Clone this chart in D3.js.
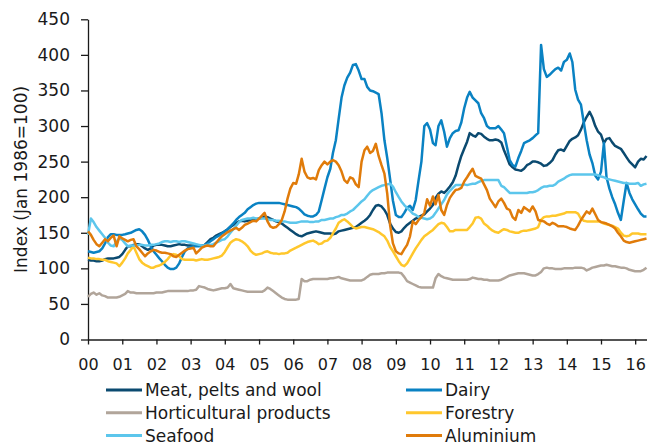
<!DOCTYPE html>
<html>
<head>
<meta charset="utf-8">
<script src="https://cdn.jsdelivr.net/npm/d3@7"></script>
<style>
  body { margin: 0; background: #fff; }
  svg text { font-family: "DejaVu Sans", Verdana, sans-serif; fill: #1a1a1a; }
</style>
</head>
<body>
<svg id="chart" width="649" height="443"></svg>
<script>
// monthly index values, Jan 2000 .. May 2016 (Jan 1986 = 100)
var start = new Date(2000, 0, 1);

var meat = [
  112,111,111,110,110,111,113,114,114,114,115,116,
  120,126,131,131,133,134,134,131,128,126,128,132,
  133,133,133,132,131,131,132,133,134,133,133,132,
  132,132,133,132,131,133,137,141,143,146,148,150,
  152,155,158,161,164,166,167,166,167,168,168,169,
  170,171,173,172,170,168,166,165,163,160,157,154,
  151,148,146,145,147,149,150,151,152,151,150,149,
  149,149,148,149,152,153,154,155,156,157,158,161,
  164,167,170,175,182,188,189,187,182,175,163,156,
  151,150,152,157,161,164,167,170,172,174,176,180,
  184,189,199,205,208,206,210,215,221,230,245,258,
  268,278,290,287,285,290,289,285,282,280,280,281,
  280,277,266,256,246,242,239,238,237,240,245,247,
  250,250,249,247,244,245,248,252,260,266,267,265,
  272,279,282,284,287,295,305,313,320,312,300,292,
  288,276,282,283,277,272,270,268,262,256,250,246,
  242,250,254,253,258
];

var dairy = [
  124,123,122,123,124,128,135,144,148,148,147,147,
  147,148,149,150,152,154,155,152,147,140,131,124,
  119,114,110,105,101,99,99,101,107,116,124,128,
  130,131,131,131,132,133,135,138,141,144,146,149,
  152,155,159,163,168,172,175,178,183,186,189,191,
  192,192,192,192,192,192,192,192,191,190,189,188,
  187,186,184,180,176,174,173,173,175,180,196,212,
  228,240,262,280,310,340,357,368,375,386,387,378,
  366,366,355,350,349,347,345,318,280,255,225,195,
  175,172,172,178,185,188,182,196,224,250,300,304,
  295,276,273,300,308,292,271,283,290,293,294,305,
  325,340,348,340,336,332,318,311,300,297,297,297,
  300,295,290,271,252,245,243,255,265,276,278,280,
  283,287,290,414,380,369,372,376,380,382,378,390,
  393,402,390,351,337,330,305,280,260,248,230,225,
  236,276,228,212,200,190,178,168,195,220,206,197,
  190,183,177,173,173
];

var horti = [
  60,64,66,63,65,62,61,59,59,59,59,60,
  62,64,68,66,66,65,65,65,65,65,65,65,
  66,66,66,67,68,68,68,68,68,68,68,68,
  69,69,70,75,74,73,71,70,69,70,71,72,
  72,73,78,72,71,70,69,68,67,67,67,67,
  67,67,69,73,71,68,65,62,59,57,56,56,
  56,56,57,85,82,82,84,85,85,85,85,85,
  85,86,86,87,88,86,85,84,83,83,83,83,
  83,85,88,91,92,92,92,93,93,94,94,94,
  94,94,93,88,82,80,78,76,74,73,73,73,
  73,73,86,92,89,87,86,85,84,84,84,84,
  84,84,85,87,86,85,85,84,84,83,83,83,
  83,84,86,88,90,91,92,93,93,93,92,91,
  90,90,92,95,100,101,100,100,99,99,99,100,
  100,100,100,101,101,101,100,97,99,101,102,103,
  104,104,105,104,103,103,102,101,101,100,98,97,
  96,96,96,98,101
];

var forestry = [
  115,114,114,113,113,112,112,110,109,108,107,103,
  108,114,121,126,131,122,113,108,105,103,101,101,
  103,104,106,109,113,118,120,119,117,113,112,112,
  112,112,111,112,113,112,112,113,114,115,116,118,
  123,130,136,139,141,140,138,135,131,125,121,119,
  120,121,123,124,122,121,121,120,121,121,122,125,
  127,129,131,133,135,137,138,139,137,134,135,138,
  139,143,149,156,164,167,169,166,162,158,156,157,
  158,158,157,156,155,153,151,148,145,139,130,124,
  117,110,105,103,107,114,121,128,134,140,145,148,
  151,154,158,162,164,163,158,152,152,154,154,154,
  154,154,158,163,171,172,170,163,160,156,153,151,
  150,153,155,154,152,151,150,150,152,153,153,154,
  155,156,158,168,172,173,173,174,174,175,176,177,
  179,179,179,179,177,170,167,166,166,166,166,166,
  165,163,162,161,160,158,156,150,146,145,146,149,
  149,149,148,148,148
];

var seafood = [
  147,170,165,158,153,148,143,136,132,131,138,142,
  140,135,131,132,132,132,133,133,132,132,133,133,
  134,135,137,138,138,137,138,138,137,138,138,137,
  136,135,134,133,132,132,133,133,134,136,138,140,
  141,145,150,155,160,165,168,169,170,170,171,170,
  170,170,170,169,168,168,167,167,166,166,165,164,
  164,164,165,166,166,166,165,165,166,166,168,168,
  169,170,170,172,173,175,175,177,180,182,186,190,
  194,197,202,207,210,212,214,216,217,218,219,215,
  207,200,194,189,185,181,177,175,172,171,170,169,
  170,173,178,184,190,196,204,209,213,217,217,217,
  218,217,218,219,219,221,223,224,224,224,224,224,
  224,216,214,210,206,206,206,206,206,206,206,207,
  207,208,210,213,215,215,216,216,218,222,224,226,
  229,231,232,232,232,232,232,232,232,232,232,231,
  229,228,226,225,224,223,222,221,220,220,219,219,
  219,220,216,218,219
];

var aluminium = [
  152,147,140,134,131,136,141,138,143,146,131,145,
  142,140,138,140,141,131,127,122,117,121,124,126,
  125,123,122,122,121,120,117,116,119,122,125,127,
  128,129,121,125,129,131,132,131,131,136,141,145,
  148,151,153,155,157,154,157,161,163,165,167,166,
  170,174,178,166,159,157,158,162,168,180,198,212,
  220,219,232,254,236,228,226,227,225,238,245,250,
  246,250,252,250,245,236,224,220,228,226,218,214,
  250,266,271,262,265,275,258,245,233,205,160,135,
  124,121,120,127,133,145,166,162,168,172,178,197,
  188,201,190,203,182,175,189,199,205,210,211,213,
  222,228,234,240,230,228,226,218,210,198,192,186,
  194,198,192,184,182,172,168,182,178,186,183,180,
  187,180,168,167,166,163,161,164,162,159,159,159,
  158,156,155,154,160,168,174,180,177,184,176,168,
  165,164,163,161,159,156,150,145,139,137,136,137,
  138,139,140,141,142
];

var seriesNames = ['Meat, pelts and wool', 'Dairy', 'Horticultural products',
                   'Forestry', 'Seafood', 'Aluminium'];
var seriesColors = ['#0b4a70', '#0a82c3', '#b1a59a', '#ffc72c', '#5cc6ec', '#e07b0a'];
var yTicks = [0, 50, 100, 150, 200, 250, 300, 350, 400, 450];
var xTickLabels = ['00','01','02','03','04','05','06','07','08',
                   '09','10','11','12','13','14','15','16'];

var series = [meat, dairy, horti, forestry, seafood, aluminium];

var svg = d3.select('#chart');

var dates = d3.range(meat.length).map(function (i) { return d3.timeMonth.offset(start, i); });

var x = d3.scaleTime()
    .domain([start, dates[dates.length - 1]])
    .range([88, 646.5]);

var y = d3.scaleLinear()
    .domain([0, 450])
    .range([339.5, 19.3]);

//// axes

var yAxis = svg.append('g')
    .attr('transform', 'translate(88,0)')
    .call(d3.axisLeft(y)
        .tickValues(yTicks)
        .tickSize(7)
        .tickSizeOuter(0)
        .tickPadding(11));

var xAxis = svg.append('g')
    .attr('transform', 'translate(0,339.5)')
    .call(d3.axisBottom(x)
        .tickValues(xTickLabels.map(function (d, i) { return new Date(2000 + i, 0, 1); }))
        .tickFormat(function (d, i) { return xTickLabels[i]; })
        .tickSize(5)
        .tickSizeOuter(0)
        .tickPadding(14));

svg.selectAll('.domain, .tick line')
    .attr('stroke', '#1a1a1a')
    .attr('stroke-width', 1.3);

yAxis.selectAll('text').style('font-size', '17px');
xAxis.selectAll('text').style('font-size', '16px');

svg.append('text')
    .attr('transform', 'translate(21,179.4) rotate(-90)')
    .attr('text-anchor', 'middle')
    .attr('dominant-baseline', 'central')
    .style('font-size', '17px')
    .text('Index (Jan 1986=100)');

//// lines

var line = d3.line()
    .x(function (d, i) { return x(dates[i]); })
    .y(function (d) { return y(d); });

svg.append('g')
  .selectAll('path')
  .data(series)
  .join('path')
    .attr('d', line)
    .attr('fill', 'none')
    .attr('stroke', function (d, i) { return seriesColors[i]; })
    .attr('stroke-width', 2.5)
    .attr('stroke-linejoin', 'round');

//// legend

var legend = svg.append('g')
  .selectAll('g')
  .data(seriesNames)
  .join('g')
    .attr('transform', function (d, i) {
      return 'translate(' + (106 + (i % 2) * 300) + ',' + (390 + Math.floor(i / 2) * 22.8) + ')';
    });

legend.append('line')
    .attr('x1', 0)
    .attr('x2', 36)
    .attr('stroke', function (d, i) { return seriesColors[i]; })
    .attr('stroke-width', 3);

legend.append('text')
    .attr('x', 39)
    .attr('dominant-baseline', 'central')
    .style('font-size', '17px')
    .text(function (d) { return d; });
</script>
</body>
</html>
